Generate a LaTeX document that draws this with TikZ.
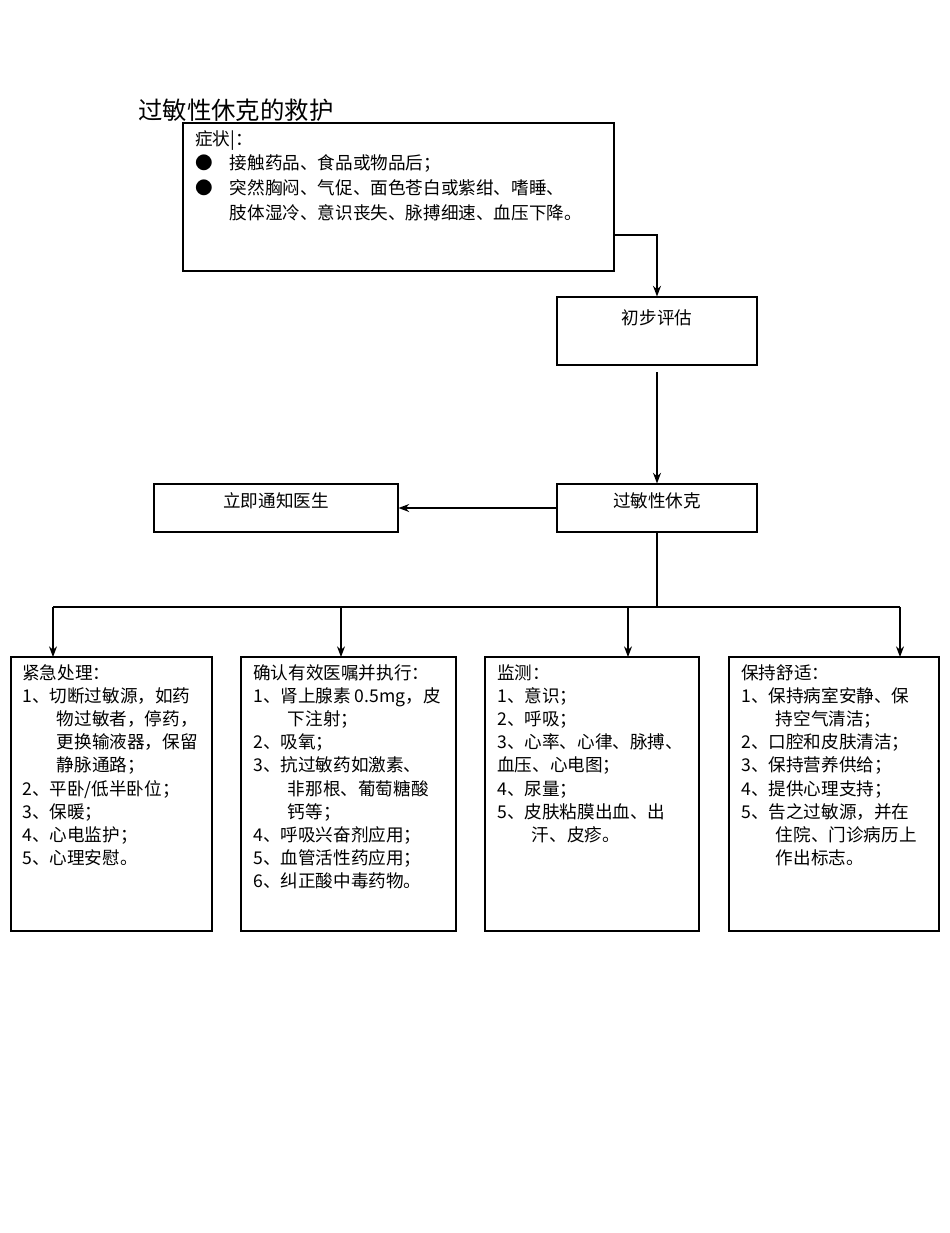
\documentclass[tikz,border=0pt]{standalone}
\usepackage{fontspec}
\setmainfont{Noto Sans CJK SC}
\usetikzlibrary{arrows.meta}
\begin{document}
\begin{tikzpicture}[x=0.75pt,y=-0.75pt,
  box/.style={draw,line width=0.8pt},
  txt/.style={anchor=north west,align=left,inner sep=0pt,font=\fontsize{13.2pt}{17.4pt}\selectfont},
  ctr/.style={font=\fontsize{13.2pt}{15pt}\selectfont},
  arr/.style={-{Stealth[length=8pt,width=6pt]},line width=0.9pt},
  ln/.style={line width=0.9pt}]
\useasboundingbox (0,0) rectangle (950,1233);
\node[anchor=west,inner sep=0pt,font=\fontsize{18.3pt}{20pt}\selectfont] (title) at (138,110) {过敏性休克的救护};
\draw[box] (183,123) rectangle (614,271);
\node[txt,font=\fontsize{13.2pt}{18.5pt}\selectfont] (sym) at (195,130) {症状|：\\
\makebox[26pt][l]{●}接触药品、食品或物品后；\\
\makebox[26pt][l]{●}突然胸闷、气促、面色苍白或紫绀、嗜睡、\\
\hspace*{26pt}肢体湿冷、意识丧失、脉搏细速、血压下降。};
\node[box,minimum width=150pt,minimum height=51pt] (eval) at (657,331) {};
\node[ctr] at (657,318) {初步评估};
\node[box,minimum width=150pt,minimum height=36pt] (shock) at (657,508) {};
\node[ctr] at (657,501) {过敏性休克};
\node[box,minimum width=183pt,minimum height=36pt] (doc) at (276,508) {};
\node[ctr] at (276,501) {立即通知医生};
\coordinate (c1) at (614,235);
\coordinate (c2) at (657,372);
\draw[arr] (c1) -| (eval.north);
\draw[arr] (c2) -- (shock.north);
\draw[arr] (shock.west) -- (doc.east);
\coordinate (h) at (657,607);
\draw[ln] (shock.south) -- (h);
\draw[ln] (53,607) -- (900,607);
\draw[box] (11,657) rectangle (212,931);
\draw[box] (241,657) rectangle (456,931);
\draw[box] (485,657) rectangle (699,931);
\draw[box] (729,657) rectangle (939,931);
\coordinate (b1) at (53,657);\coordinate (b2) at (341,657);
\coordinate (b3) at (628,657);\coordinate (b4) at (900,657);
\foreach \x/\b in {53/b1,341/b2,628/b3,900/b4}{\draw[arr] (\x,607) -- (\b);}
\def\ind{\hspace*{26pt}}
\node[txt] (t1) at (22,664) {紧急处理：\\1、切断过敏源，如药\\\ind 物过敏者，停药，\\\ind 更换输液器，保留\\\ind 静脉通路；\\2、平卧/低半卧位；\\3、保暖；\\4、心电监护；\\5、心理安慰。};
\node[txt] (t2) at (253,664) {确认有效医嘱并执行：\\1、肾上腺素 0.5mg，皮\\\ind 下注射；\\2、吸氧；\\3、抗过敏药如激素、\\\ind 非那根、葡萄糖酸\\\ind 钙等；\\4、呼吸兴奋剂应用；\\5、血管活性药应用；\\6、纠正酸中毒药物。};
\node[txt] (t3) at (497,664) {监测：\\1、意识；\\2、呼吸；\\3、心率、心律、脉搏、\\血压、心电图；\\4、尿量；\\5、皮肤粘膜出血、出\\\ind 汗、皮疹。};
\node[txt] (t4) at (741,664) {保持舒适：\\1、保持病室安静、保\\\ind 持空气清洁；\\2、口腔和皮肤清洁；\\3、保持营养供给；\\4、提供心理支持；\\5、告之过敏源，并在\\\ind 住院、门诊病历上\\\ind 作出标志。};
\end{tikzpicture}
\end{document}
